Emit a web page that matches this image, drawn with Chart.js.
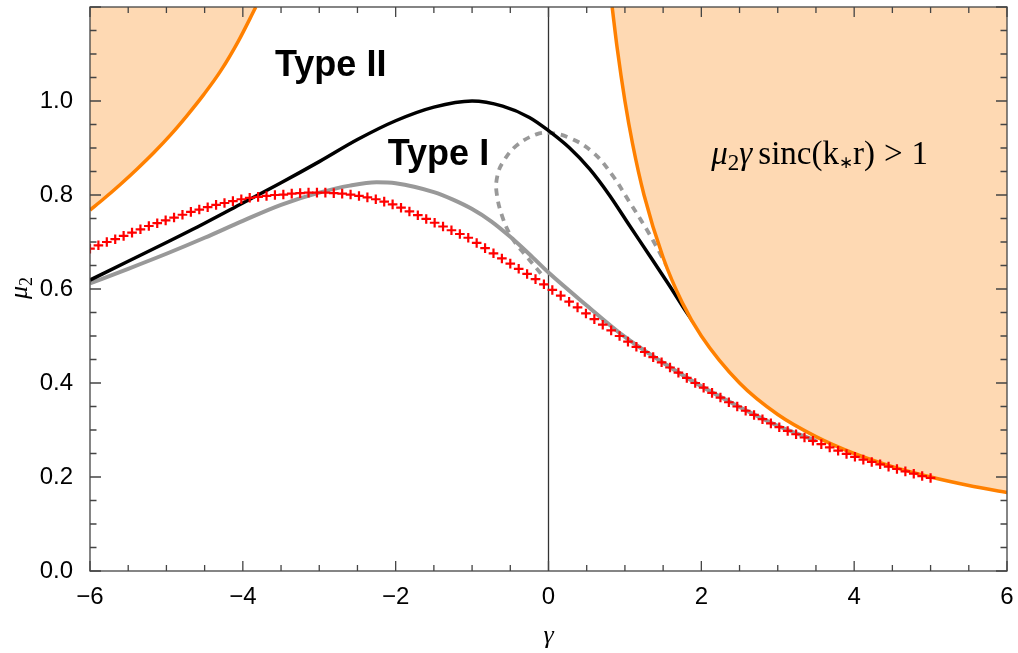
<!DOCTYPE html>
<html>
<head>
<meta charset="utf-8">
<script src="https://cdn.jsdelivr.net/npm/chart.js@4.4.1/dist/chart.umd.min.js"></script>
<style>
body { margin: 0; background: #fff; }
#wrap { width: 1018px; height: 653px; position: relative; }
</style>
</head>
<body>
<div id="wrap"><canvas id="mainChart"></canvas></div>
<script>
// axis ticks
var xTicks = [-6, -4, -2, 0, 2, 4, 6];
var yTicks = [0, 0.2, 0.4, 0.6, 0.8, 1.0];

// red crosses
var crossGamma = [-6, -5.89, -5.78, -5.67, -5.56, -5.45, -5.34, -5.23, -5.12, -5.01,
    -4.9, -4.79, -4.68, -4.57, -4.46, -4.35, -4.24, -4.13, -4.02, -3.91,
    -3.8, -3.69, -3.58, -3.47, -3.36, -3.25, -3.14, -3.03, -2.92, -2.81,
    -2.7, -2.59, -2.48, -2.37, -2.26, -2.15, -2.04, -1.93, -1.82, -1.71,
    -1.6, -1.49, -1.38, -1.27, -1.16, -1.05, -0.94, -0.83, -0.72, -0.61,
    -0.5, -0.39, -0.28, -0.17, -0.06, 0.05, 0.16, 0.27, 0.38, 0.49,
    0.6, 0.71, 0.82, 0.93, 1.04, 1.15, 1.26, 1.37, 1.48, 1.59,
    1.7, 1.81, 1.92, 2.03, 2.14, 2.25, 2.36, 2.47, 2.58, 2.69,
    2.8, 2.91, 3.02, 3.13, 3.24, 3.35, 3.46, 3.57, 3.68, 3.79,
    3.9, 4.01, 4.12, 4.23, 4.34, 4.45, 4.56, 4.67, 4.78, 4.89, 5.0];
var crossMu = [0.686, 0.693, 0.700, 0.706, 0.713, 0.720, 0.727, 0.734, 0.740, 0.746,
    0.752, 0.758, 0.764, 0.769, 0.774, 0.779, 0.783, 0.787, 0.791, 0.794,
    0.796, 0.798, 0.800, 0.801, 0.803, 0.804, 0.805, 0.805, 0.805, 0.804,
    0.803, 0.801, 0.798, 0.795, 0.791, 0.786, 0.780, 0.773, 0.765, 0.757,
    0.749, 0.741, 0.733, 0.725, 0.717, 0.709, 0.698, 0.687, 0.676, 0.665,
    0.654, 0.643, 0.632, 0.621, 0.610, 0.598, 0.586, 0.573, 0.561, 0.548,
    0.536, 0.524, 0.512, 0.500, 0.488, 0.477, 0.466, 0.455, 0.444, 0.433,
    0.422, 0.411, 0.400, 0.390, 0.379, 0.369, 0.359, 0.350, 0.341, 0.332,
    0.323, 0.314, 0.306, 0.298, 0.291, 0.284, 0.277, 0.270, 0.263, 0.256,
    0.249, 0.243, 0.237, 0.232, 0.227, 0.222, 0.217, 0.212, 0.207, 0.202, 0.198];

// black boundary curve
var blackGamma = [-6, -5.5, -5, -4.5, -4, -3.5, -3, -2.5, -2, -1.5, -1, -0.6, -0.25, 0,
    0.27, 0.54, 0.8, 1.06, 1.32, 1.58, 1.8, 1.98];
var blackMu = [0.619, 0.659, 0.699, 0.740, 0.783, 0.826, 0.871, 0.918, 0.958, 0.987, 1.000, 0.989, 0.965, 0.937,
    0.901, 0.855, 0.799, 0.735, 0.672, 0.608, 0.552, 0.510];

// gray solid curve
var grayGamma = [-6, -5.5, -5, -4.5, -4, -3.5, -3, -2.6, -2.25, -2, -1.5, -1.25, -1, -0.75, -0.5, -0.25, 0,
    0.5, 1.0, 1.5, 2, 2.5, 3, 3.5];
var grayMu = [0.612, 0.643, 0.675, 0.709, 0.745, 0.779, 0.805, 0.820, 0.827, 0.825, 0.806, 0.790, 0.770, 0.744, 0.711, 0.674, 0.635,
    0.565, 0.498, 0.443, 0.393, 0.349, 0.309, 0.277];

// gray dashed loop
var dashGamma = [-0.10, -0.28, -0.47, -0.60, -0.68, -0.67, -0.60, -0.42, -0.16, 0.01,
    0.27, 0.58, 0.84, 1.06, 1.28, 1.45, 1.63, 1.80, 1.93];
var dashMu = [0.633, 0.668, 0.707, 0.752, 0.806, 0.840, 0.869, 0.905, 0.929, 0.932,
    0.922, 0.891, 0.841, 0.785, 0.728, 0.679, 0.622, 0.566, 0.524];

// orange edges of the shaded region
var edgeLeftGamma = [-6, -5.82, -5.6, -5.38, -5.16, -4.94, -4.73, -4.51, -4.29, -4.06, -3.83];
var edgeLeftMu = [0.768, 0.792, 0.823, 0.856, 0.891, 0.929, 0.969, 1.014, 1.064, 1.127, 1.2];
var edgeRightGamma = [0.833, 0.9, 1, 1.1, 1.25, 1.5, 1.75, 2, 2.5, 3, 3.5, 4, 4.5, 5, 5.5, 6];
var edgeRightMu = [1.2, 1.111, 1.0, 0.909, 0.8, 0.667, 0.571, 0.5, 0.4, 0.333, 0.286, 0.25, 0.222, 0.2, 0.182, 0.167];

var toPoints = function(xs, ys) {
    return xs.map(function(x, i) { return {x: x, y: ys[i]}; });
};

var sansFont = '"Liberation Sans", Arial, sans-serif';
var serifFont = '"Liberation Serif", "Times New Roman", serif';
var orange = '#ff8000';
var orangeFill = 'rgb(254,217,179)';

// draws a run of text pieces with their own fonts
var drawPieces = function(ctx, pieces, x, y) {
    pieces.forEach(function(p) {
        ctx.font = p.f;
        ctx.fillText(p.t, x, y + (p.dy || 0));
        x += ctx.measureText(p.t).width + (p.sp || 0);
    });
};

var framePlugin = {
    id: 'frame',
    beforeDatasetsDraw: function(chart) {
        var ctx = chart.ctx, a = chart.chartArea;
        var x0 = chart.scales.x.getPixelForValue(0);
        ctx.save();
        ctx.strokeStyle = '#333';
        ctx.lineWidth = 1.3;
        ctx.beginPath();
        ctx.moveTo(x0, a.top);
        ctx.lineTo(x0, a.bottom);
        ctx.stroke();
        ctx.restore();
    },
    afterDraw: function(chart) {
        var ctx = chart.ctx, a = chart.chartArea;
        var xs = chart.scales.x, ys = chart.scales.y;
        var i, p, major;
        ctx.save();
        ctx.strokeStyle = '#444';
        ctx.lineWidth = 1.3;
        ctx.strokeRect(a.left, a.top, a.right - a.left, a.bottom - a.top);
        ctx.beginPath();
        // x ticks, bottom and top, pointing in
        for (i = -12; i <= 12; i++) {
            p = xs.getPixelForValue(i * 0.5);
            major = i % 4 === 0;
            var lx = major ? 10 : 6;
            ctx.moveTo(p, a.bottom); ctx.lineTo(p, a.bottom - lx);
            ctx.moveTo(p, a.top); ctx.lineTo(p, a.top + lx);
        }
        // y ticks, left and right
        for (i = 0; i <= 24; i++) {
            p = ys.getPixelForValue(i * 0.05);
            major = i % 4 === 0;
            var ly = major ? 11 : 6.5;
            ctx.moveTo(a.left, p); ctx.lineTo(a.left + ly, p);
            ctx.moveTo(a.right, p); ctx.lineTo(a.right - ly, p);
        }
        ctx.stroke();

        // region labels
        ctx.fillStyle = '#000';
        ctx.textBaseline = 'alphabetic';
        ctx.textAlign = 'center';
        ctx.font = 'bold 36px ' + sansFont;
        ctx.fillText('Type II', xs.getPixelForValue(-2.85), ys.getPixelForValue(1.054));
        ctx.fillText('Type I', xs.getPixelForValue(-1.44), ys.getPixelForValue(0.863));

        ctx.textAlign = 'left';
        drawPieces(ctx, [
            {t: '\u03bc', f: 'italic 33px ' + serifFont},
            {t: '2', f: '23px ' + serifFont, dy: 6},
            {t: '\u03b3', f: 'italic 33px ' + serifFont, sp: 6},
            {t: 'sinc(k', f: '33px ' + serifFont},
            {t: '\u2217', f: '17px ' + serifFont, dy: 4},
            {t: 'r)', f: '33px ' + serifFont, sp: 9},
            {t: '>', f: '33px ' + serifFont, sp: 9},
            {t: '1', f: '33px ' + serifFont}
        ], xs.getPixelForValue(2.13), ys.getPixelForValue(0.865));

        // axis titles
        ctx.textAlign = 'center';
        ctx.font = 'italic 26px ' + serifFont;
        ctx.fillText('\u03b3', xs.getPixelForValue(0), 643);

        ctx.translate(27, 299);
        ctx.rotate(-Math.PI / 2);
        ctx.textAlign = 'left';
        drawPieces(ctx, [
            {t: '\u03bc', f: 'italic 26px ' + serifFont},
            {t: '2', f: '18px ' + serifFont, dy: 5}
        ], 0, 0);
        ctx.restore();
    }
};

var chartContainer = document.getElementById('mainChart');
var chartOptions = {
    type: 'line',
    data: {
        datasets: [
            {
                label: 'crosses',
                data: toPoints(crossGamma, crossMu),
                showLine: false,
                pointStyle: 'cross',
                pointRadius: 4.8,
                pointBorderWidth: 2.2,
                pointBorderColor: '#ff0000',
                borderColor: '#ff0000',
                order: 0
            },
            {
                label: 'edge right',
                data: toPoints(edgeRightGamma, edgeRightMu),
                borderColor: orange,
                borderWidth: 3.5,
                backgroundColor: orangeFill,
                fill: 'end',
                pointRadius: 0,
                cubicInterpolationMode: 'monotone',
                order: 1
            },
            {
                label: 'edge left',
                data: toPoints(edgeLeftGamma, edgeLeftMu),
                borderColor: orange,
                borderWidth: 3.5,
                backgroundColor: orangeFill,
                fill: 'end',
                pointRadius: 0,
                cubicInterpolationMode: 'monotone',
                order: 1
            },
            {
                label: 'black',
                data: toPoints(blackGamma, blackMu),
                borderColor: '#000',
                borderWidth: 3.5,
                pointRadius: 0,
                cubicInterpolationMode: 'monotone',
                order: 2
            },
            {
                label: 'dashed',
                data: toPoints(dashGamma, dashMu),
                borderColor: '#999',
                borderWidth: 3.8,
                borderDash: [7, 6],
                pointRadius: 0,
                tension: 0.4,
                order: 3
            },
            {
                label: 'gray',
                data: toPoints(grayGamma, grayMu),
                borderColor: '#999',
                borderWidth: 4,
                pointRadius: 0,
                cubicInterpolationMode: 'monotone',
                order: 4
            }
        ]
    },
    options: {
        responsive: true,
        maintainAspectRatio: false,
        animation: false,
        events: [],
        clip: 0,
        layout: { padding: { top: 4, right: 11, left: 0, bottom: 0 } },
        plugins: { legend: { display: false }, tooltip: { enabled: false } },
        scales: {
            x: {
                type: 'linear',
                min: -6,
                max: 6,
                afterBuildTicks: function(s) { s.ticks = xTicks.map(function(v) { return {value: v}; }); },
                afterFit: function(s) { s.height = 82; s.paddingLeft = 0; s.paddingRight = 0; },
                grid: { display: false },
                border: { display: false },
                ticks: {
                    color: '#000',
                    padding: 4,
                    maxRotation: 0,
                    font: { family: sansFont, size: 24 },
                    callback: function(v) { return String(v).replace('-', '\u2212'); }
                }
            },
            y: {
                min: 0,
                max: 1.2,
                afterBuildTicks: function(s) { s.ticks = yTicks.map(function(v) { return {value: v}; }); },
                afterFit: function(s) { s.width = 90; s.paddingTop = 0; s.paddingBottom = 0; },
                grid: { display: false },
                border: { display: false },
                ticks: {
                    color: '#000',
                    padding: 9,
                    font: { family: sansFont, size: 24 },
                    callback: function(v) { return v.toFixed(1); }
                }
            }
        }
    },
    plugins: [framePlugin]
};
var mainChart = new Chart(chartContainer, chartOptions);
</script>
</body>
</html>
